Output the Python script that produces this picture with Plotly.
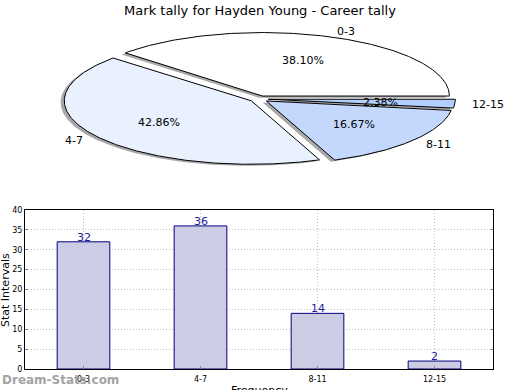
import numpy as np
import plotly.graph_objects as go

categories = ["0-3", "4-7", "8-11", "12-15"]
values = [32, 36, 14, 2]
y_ticks = [0, 5, 10, 15, 20, 25, 30, 35, 40]
title = "Mark tally for Hayden Young - Career tally"

pie_colors = ["#FFFFFF", "#EAF1FE", "#C4D8FE", "#B2CEFD"]
W, H = 520, 390
FONT = "DejaVu Sans"

# pie geometry in pixel space of the top area
cx, cy, rx, ry = 259.0, 99.0, 187.0, 63.5
explode = 0.05

fig = go.Figure()

total = float(sum(values))
fracs = [v / total for v in values]
starts = np.concatenate([[0.0], np.cumsum(fracs)[:-1]]) * 360.0
ends = np.cumsum(fracs) * 360.0

x2_range = [-cx / rx, (W - cx) / rx]
top_h = 195.0
y2_range = [-(top_h - cy) / ry, cy / ry]

def wedge(t1, t2, ox, oy):
    th = np.radians(np.linspace(t1, t2, max(int((t2 - t1) * 2), 4)))
    xs = np.concatenate([[ox], ox + np.cos(th), [ox]])
    ys = np.concatenate([[oy], oy + np.sin(th), [oy]])
    return xs, ys

annotations = []
for i in range(len(values)):
    mid = np.radians((starts[i] + ends[i]) / 2)
    ox, oy = explode * np.cos(mid), explode * np.sin(mid)
    xs, ys = wedge(starts[i], ends[i], ox - 0.02, oy - 0.025)
    fig.add_trace(go.Scatter(x=xs, y=ys, xaxis="x2", yaxis="y2", mode="lines",
                             fill="toself", fillcolor="rgba(110,110,110,0.6)",
                             line=dict(width=0), hoverinfo="skip", showlegend=False))
for i in range(len(values)):
    mid = np.radians((starts[i] + ends[i]) / 2)
    ox, oy = explode * np.cos(mid), explode * np.sin(mid)
    xs, ys = wedge(starts[i], ends[i], ox, oy)
    fig.add_trace(go.Scatter(x=xs, y=ys, xaxis="x2", yaxis="y2", mode="lines",
                             fill="toself", fillcolor=pie_colors[i],
                             line=dict(width=1, color="black"),
                             name=categories[i], showlegend=False))
    lx, ly = ox + 1.1 * np.cos(mid), oy + 1.1 * np.sin(mid)
    right_side = lx > 0
    annotations.append(dict(x=lx, y=ly, xref="x2", yref="y2", text=categories[i],
                            showarrow=False, xanchor="left" if right_side else "right",
                            xshift=-3 if right_side else 4,
                            yanchor="middle", font=dict(family=FONT, size=11, color="black")))
    px, py = ox + 0.6 * np.cos(mid), oy + 0.6 * np.sin(mid)
    annotations.append(dict(x=px, y=py, xref="x2", yref="y2",
                            text="%.2f%%" % (fracs[i] * 100), showarrow=False,
                            xanchor="center", yanchor="middle",
                            font=dict(family=FONT, size=11, color="black")))

fig.add_trace(go.Bar(x=categories, y=values, width=0.45,
                     marker=dict(color="#CCCCE4", line=dict(color="#000080", width=1)),
                     showlegend=False))

for c, v in zip(categories, values):
    annotations.append(dict(x=c, y=v, xref="x", yref="y", text=str(v), showarrow=False,
                            xanchor="center", yanchor="bottom", yshift=-4,
                            font=dict(family=FONT, size=11, color="#1C1CA0")))

annotations.append(dict(x=5 / W, y=1 - 290 / H, xref="paper", yref="paper",
                        text="Stat Intervals", textangle=-90, showarrow=False,
                        xanchor="center", yanchor="middle",
                        font=dict(family=FONT, size=11, color="black")))
annotations.append(dict(x=259 / W, y=1 - 390 / H, xref="paper", yref="paper",
                        text="Frequency", showarrow=False,
                        xanchor="center", yanchor="middle",
                        font=dict(family=FONT, size=11, color="black")))
annotations.append(dict(x=0, y=1 - 380 / H, xref="paper", yref="paper",
                        text="<b>Dream-Stats.com</b>", showarrow=False,
                        xanchor="left", yanchor="middle",
                        font=dict(family=FONT, size=12, color="rgba(150,150,150,0.9)")))

grid_color = "#C0C0C0"
fig.update_layout(
    width=W, height=H,
    margin=dict(l=0, r=0, t=0, b=0, pad=0, autoexpand=False),
    paper_bgcolor="white", plot_bgcolor="white",
    title=dict(text=title, x=260 / W, xanchor="center", y=1 - 10 / H, yanchor="middle",
               font=dict(family=FONT, size=13, color="black")),
    font=dict(family=FONT),
    xaxis=dict(domain=[25 / W, 493 / W], anchor="y", range=[-0.5, 3.5], automargin=False,
               showgrid=True, gridcolor=grid_color, griddash="1px,2px", gridwidth=1,
               showline=True, linecolor="black", linewidth=1, mirror=True,
               ticks="inside", ticklen=3, tickcolor="#888", ticklabelstandoff=2,
               tickfont=dict(family=FONT, size=8, color="black")),
    yaxis=dict(domain=[1 - 369 / H, 1 - 210 / H], anchor="x", range=[0, 40], automargin=False,
               tickvals=y_ticks,
               showgrid=True, gridcolor=grid_color, griddash="1px,2px", gridwidth=1,
               showline=True, linecolor="black", linewidth=1, mirror="allticks",
               ticks="inside", ticklen=3, tickcolor="#888", zeroline=False,
               tickfont=dict(family=FONT, size=8, color="black")),
    xaxis2=dict(domain=[0, 1], anchor="y2", range=x2_range, visible=False, automargin=False),
    yaxis2=dict(domain=[1 - top_h / H, 1], anchor="x2", range=y2_range, visible=False,
                automargin=False),
    annotations=annotations,
)

fig.write_html("out.html", config={"displayModeBar": False},
               post_script="document.body.style.margin='0px';document.body.style.overflow='hidden';")
